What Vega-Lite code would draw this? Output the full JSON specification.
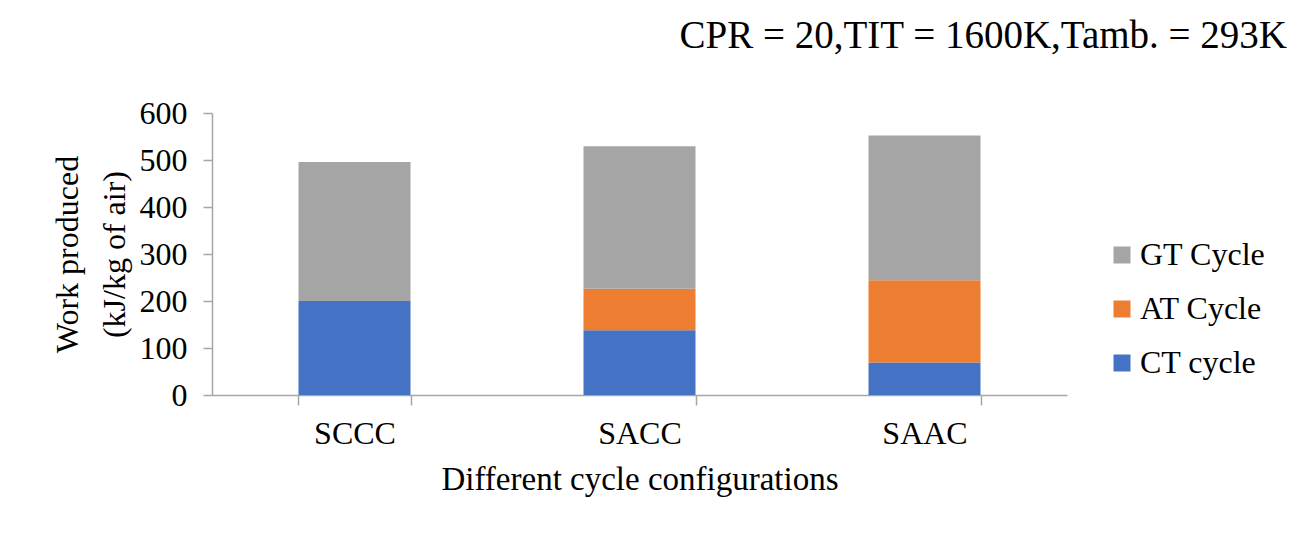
{
  "$schema": "https://vega.github.io/schema/vega-lite/v6.json",
  "autosize": "none",
  "width": 855,
  "height": 282,
  "padding": {"left": 212, "top": 113, "right": 232, "bottom": 140},
  "background": "white",
  "title": {
    "text": "CPR = 20,TIT = 1600K,Tamb. = 293K",
    "anchor": "end",
    "frame": "group",
    "dx": 220,
    "offset": 10,
    "baseline": "alphabetic",
    "font": "Liberation Serif",
    "fontSize": 39,
    "fontWeight": "normal",
    "color": "#000000"
  },
  "data": {
    "values": [
      {"config": "SCCC", "cycle": "CT cycle", "ord": 1, "work": 200},
      {"config": "SCCC", "cycle": "GT Cycle", "ord": 3, "work": 296},
      {"config": "SACC", "cycle": "CT cycle", "ord": 1, "work": 138},
      {"config": "SACC", "cycle": "AT Cycle", "ord": 2, "work": 88},
      {"config": "SACC", "cycle": "GT Cycle", "ord": 3, "work": 303},
      {"config": "SAAC", "cycle": "CT cycle", "ord": 1, "work": 69},
      {"config": "SAAC", "cycle": "AT Cycle", "ord": 2, "work": 175},
      {"config": "SAAC", "cycle": "GT Cycle", "ord": 3, "work": 308}
    ]
  },
  "mark": {"type": "bar"},
  "encoding": {
    "x": {
      "field": "config",
      "type": "nominal",
      "sort": ["SCCC", "SACC", "SAAC"],
      "scale": {"paddingInner": 0.607, "paddingOuter": 0.3035},
      "axis": {
        "title": "Different cycle configurations",
        "titleFontSize": 33,
        "labelAngle": 0,
        "tickBand": "extent",
        "tickSize": 10,
        "labelPadding": 13,
        "titlePadding": 14
      }
    },
    "y": {
      "field": "work",
      "type": "quantitative",
      "stack": "zero",
      "scale": {"domain": [0, 600], "nice": false},
      "axis": {
        "title": ["Work produced", "(kJ/kg of air)"],
        "values": [0, 100, 200, 300, 400, 500, 600],
        "grid": false,
        "tickSize": 9,
        "labelPadding": 16,
        "titlePadding": 8,
        "titleLineHeight": 47
      }
    },
    "color": {
      "field": "cycle",
      "type": "nominal",
      "scale": {
        "domain": ["GT Cycle", "AT Cycle", "CT cycle"],
        "range": ["#A5A5A5", "#ED7D31", "#4472C4"]
      },
      "legend": {
        "title": null,
        "orient": "none",
        "legendX": 894,
        "legendY": 126,
        "symbolType": "square",
        "symbolSize": 289,
        "symbolStrokeWidth": 0,
        "labelOffset": 2,
        "rowPadding": 22,
        "labelFont": "Liberation Serif",
        "labelFontSize": 32,
        "labelColor": "#000000",
        "labelLimit": 300
      }
    },
    "order": {"field": "ord", "type": "quantitative"}
  },
  "config": {
    "view": {"stroke": null},
    "font": "Liberation Serif",
    "axis": {
      "domainColor": "#A6A6A6",
      "tickColor": "#A6A6A6",
      "domainWidth": 1.5,
      "tickWidth": 1.5,
      "labelFont": "Liberation Serif",
      "labelFontSize": 32,
      "labelColor": "#000000",
      "titleFont": "Liberation Serif",
      "titleFontSize": 32,
      "titleFontWeight": "normal",
      "titleColor": "#000000"
    }
  }
}
